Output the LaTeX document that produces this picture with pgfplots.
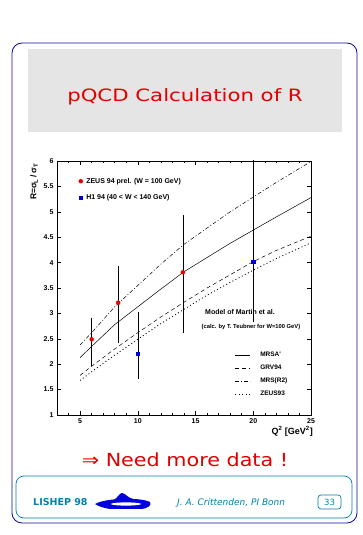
\documentclass[border=0pt]{standalone}
\usepackage{pgfplots}
\pgfplotsset{compat=1.18}
\usepackage{fontspec}
\setmainfont{DejaVu Sans}
\newfontfamily\helv{Liberation Sans}
\definecolor{slidered}{RGB}{225,0,0}
\definecolor{frameblue}{RGB}{10,10,150}
\definecolor{tealc}{RGB}{0,130,170}
\definecolor{zeusred}{RGB}{230,0,0}
\definecolor{h1blue}{RGB}{0,0,220}
\begin{document}
\begin{tikzpicture}[x=1pt,y=1pt]
\path[use as bounding box, fill=white] (0,0) rectangle (363,535);
\draw[frameblue, line width=0.8pt, rounded corners=10pt] (12,12) rectangle (357,492);
\fill[black!10] (28,403) rectangle (342,486);
\node[anchor=base, text=slidered, inner sep=0pt, font=\fontsize{17}{20}\selectfont] at (185,433) {\scalebox{1.25}[1]{pQCD Calculation of R}};
\node[anchor=base, text=slidered, inner sep=0pt, font=\fontsize{18}{20}\selectfont] at (185,68) {\scalebox{1.15}[1]{⇒ Need more data !}};
% footer
\draw[tealc, line width=0.7pt, rounded corners=8pt] (16,17) rectangle (352,59);
\node[anchor=base west, text=tealc, inner sep=0pt, font=\bfseries\fontsize{9.5}{10}\selectfont] at (33,29) {LISHEP 98};
\fill[h1blue] (95,31) .. controls (105,37) and (140,38) .. (150,33) .. controls (152,30) and (148,26) .. (140,26) -- (110,26) .. controls (103,27) and (98,29) .. (95,31) -- cycle;
\fill[h1blue] (114,35) .. controls (118,38) and (120,42) .. (122,42) .. controls (125,42) and (128,37) .. (133,36) -- cycle;
\fill[white] (126,31) ellipse [x radius=15, y radius=1.6];
\node[anchor=base west, text=tealc, inner sep=0pt, font=\itshape\fontsize{9}{10}\selectfont] at (177,29) {J. A. Crittenden, PI Bonn};
\draw[tealc, line width=0.7pt, rounded corners=3pt] (318,26) rectangle (341,40);
\node[text=tealc, inner sep=0pt, font=\fontsize{8.5}{10}\selectfont] at (329.5,33) {33};
% main axis
\begin{axis}[
  at={(57pt,120pt)}, anchor=south west,
  width=254pt, height=254pt, scale only axis,
  xmin=3, xmax=25, ymin=1, ymax=6,
  xtick={5,10,15,20,25},
  minor xtick={4,6,7,8,9,11,12,13,14,16,17,18,19,21,22,23,24},
  ytick={1,1.5,2,2.5,3,3.5,4,4.5,5,5.5,6},
  tick align=inside, major tick length=4pt, minor tick length=2pt,
  axis line style={line width=0.6pt},
  tick style={black, line width=0.5pt},
  ticklabel style={font=\helv\bfseries\fontsize{7}{8}\selectfont},
  /pgf/number format/assume math mode=true,
  xlabel={Q\textsuperscript{2} [GeV\textsuperscript{2}]},
  xlabel style={at={(rel axis cs:1.008,0)}, anchor=north east, inner sep=0pt, yshift=-11pt, font=\helv\bfseries\fontsize{9}{10}\selectfont},
  ylabel={R=σ\textsubscript{L}\,/\,σ\textsubscript{T}},
  ylabel style={at={(rel axis cs:-0.075,0.99)}, anchor=south east, inner sep=0pt, font=\helv\bfseries\fontsize{8.5}{10}\selectfont},
  legend style={draw=none, fill=none, at={(rel axis cs:0.70,0.255)}, anchor=north west,
    font=\helv\bfseries\fontsize{6.5}{7}\selectfont, row sep=4pt, inner sep=0pt,
    nodes={inner sep=1.5pt}, /tikz/every odd column/.append style={column sep=8pt}},
  legend cell align=left,
  legend image code/.code={\draw[mark=none,#1] (0pt,0pt) -- (15pt,0pt);},
]
\addplot[black, line width=0.5pt] coordinates {(5,2.13) (6,2.35) (8,2.78) (10,3.13) (12,3.48) (14,3.82) (16,4.10) (18,4.38) (20,4.64) (22,4.90) (25,5.28)};
\addlegendentry{MRSA'}
\addplot[black, line width=0.5pt, dash pattern=on 4pt off 3pt] coordinates {(5,1.78) (6,1.96) (8,2.30) (10,2.62) (12,2.93) (14,3.22) (16,3.50) (18,3.76) (20,4.02) (22,4.24) (25,4.52)};
\addlegendentry{GRV94}
\addplot[black, line width=0.5pt, dash pattern=on 4pt off 2pt on 1pt off 2pt] coordinates {(5,2.38) (6,2.62) (8,3.13) (10,3.55) (12,3.97) (14,4.36) (16,4.68) (18,5.00) (20,5.29) (22,5.58) (25,5.99)};
\addlegendentry{MRS(R2)}
\addplot[black, line width=0.8pt, dash pattern=on 1pt off 2.5pt] coordinates {(5,1.68) (6,1.85) (8,2.18) (10,2.49) (12,2.80) (14,3.08) (16,3.36) (18,3.61) (20,3.85) (22,4.08) (25,4.39)};
\addlegendentry{ZEUS93}
\addplot[forget plot, only marks, mark=*, mark size=2pt, zeusred,
  error bars/.cd, y dir=both, y explicit, error mark=none,
  error bar style={black, line width=0.6pt}]
  coordinates {(6.0,2.49) += (0,0.42) -= (0,0.52)
               (8.3,3.21) += (0,0.72) -= (0,0.79)
               (13.9,3.81) += (0,1.13) -= (0,1.20)};
\addplot[forget plot, only marks, mark=square*, mark size=1.8pt, h1blue,
  error bars/.cd, y dir=both, y explicit, error mark=none,
  error bar style={black, line width=0.6pt}]
  coordinates {(10,2.21) += (0,0.81) -= (0,0.51)
               (20,4.02) += (0,2.2) -= (0,1.18)};
\node[font=\helv\bfseries\fontsize{7}{8}\selectfont] at (axis cs:18.85,3.03) {Model of Martin et al.};
\node[font=\helv\bfseries\fontsize{5.8}{7}\selectfont] at (axis cs:19.8,2.73) {(calc. by T. Teubner for W=100 GeV)};
\end{axis}
% data legend axis
\begin{axis}[
  at={(57pt,120pt)}, anchor=south west,
  width=254pt, height=254pt, scale only axis,
  hide axis, xmin=0, xmax=1, ymin=0, ymax=1,
  legend style={draw=none, fill=none, at={(rel axis cs:0.085,0.94)}, anchor=north west,
    font=\helv\bfseries\fontsize{7}{8}\selectfont, row sep=7pt, inner sep=0pt,
    nodes={inner sep=1.5pt}, /tikz/every odd column/.append style={column sep=2pt}},
  legend cell align=left,
  legend image code/.code={\draw[#1] plot coordinates {(3pt,0pt)};},
]
\addlegendimage{only marks, mark=*, mark size=2pt, zeusred}
\addlegendentry{ZEUS 94 prel. (W = 100 GeV)}
\addlegendimage{only marks, mark=square*, mark size=1.8pt, h1blue}
\addlegendentry{H1 94 (40 < W < 140 GeV)}
\end{axis}
\end{tikzpicture}
\end{document}
